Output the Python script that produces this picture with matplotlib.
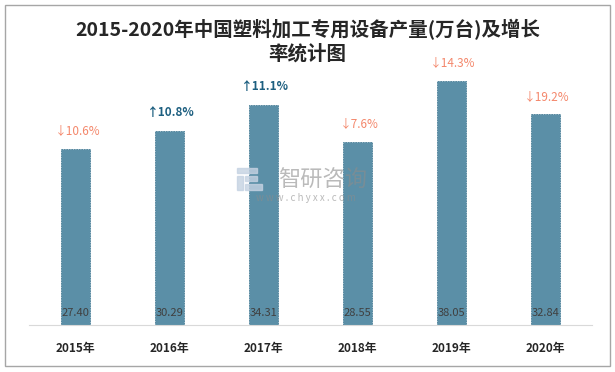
import matplotlib.pyplot as plt
from matplotlib.patches import Rectangle

plt.rcParams['font.family'] = ['Noto Sans CJK SC', 'DejaVu Sans']

# ========== DATA ==========
years = ["2015年", "2016年", "2017年", "2018年", "2019年", "2020年"]
output = [27.40, 30.29, 34.31, 28.55, 38.05, 32.84]
growth = ["10.6%", "10.8%", "11.1%", "7.6%", "14.3%", "19.2%"]
is_up = [False, True, True, False, False, False]

BAR_COLOR = "#5b8fa7"
DOWN_COLOR = "#f4876b"
UP_COLOR = "#1d5f80"

fig = plt.figure(figsize=(6.15, 3.72), dpi=100)
fig.patches.append(Rectangle((0.008, 0.015), 0.984, 0.972, transform=fig.transFigure,
                             fill=False, edgecolor="#a6a6a6", linewidth=1))

ax = fig.add_axes([0.047, 0.126, 0.916, 0.777])
x = list(range(len(years)))
ax.bar(x, output, width=0.31, color=BAR_COLOR, edgecolor="#4a7f98",
       linewidth=0.6, linestyle=(0, (2, 1)), zorder=2)

for i, v in enumerate(output):
    ax.annotate(f"{v:.2f}", (i, 0), xytext=(0, 9), textcoords="offset points",
                ha="center", va="center", fontsize=8, color="#404040", zorder=3)
    if is_up[i]:
        ax.annotate("↑" + growth[i], (i, v), xytext=(1, 13), textcoords="offset points",
                    ha="center", va="center", fontsize=8.5, color=UP_COLOR,
                    fontweight="bold")
    else:
        ax.annotate("↓" + growth[i], (i, v), xytext=(1, 13), textcoords="offset points",
                    ha="center", va="center", fontsize=8.5, color=DOWN_COLOR)

ax.set_xlim(-0.5, len(years) - 0.5)
ax.set_ylim(0, 45)
ax.set_xticks(x)
ax.set_xticklabels(years, fontsize=8.5, fontweight="bold", color="#262626")
ax.tick_params(axis="x", length=0, pad=12)
ax.set_yticks([])
for s in ["top", "right", "left"]:
    ax.spines[s].set_visible(False)
ax.spines["bottom"].set_color("#d9d9d9")

# watermark logo + text
for (lx, ly, lw, lh) in [(237, 168, 20, 5), (237, 176, 6, 14), (245, 176, 12, 5), (245, 184, 17, 6)]:
    fig.patches.append(Rectangle((lx / 615, 1 - (ly + lh) / 372), lw / 615, lh / 372,
                                 transform=fig.transFigure, color="#c5d2e2", alpha=0.8, zorder=5))
fig.text(0.525, 0.516, "智研咨询", fontsize=16, color="#8c8c8c", ha="center", va="center",
         alpha=0.6, zorder=5)
fig.text(0.497, 0.467, "w w w . c h y x x . c o m", fontsize=7, color="#8c8c8c",
         ha="center", va="center", alpha=0.6, zorder=5)

# title, two lines
fig.text(0.5, 1 - 30 / 372, "2015-2020年中国塑料加工专用设备产量(万台)及增长",
         ha="center", va="center", fontsize=14, fontweight="bold", color="#262626")
fig.text(0.5, 1 - 54 / 372, "率统计图",
         ha="center", va="center", fontsize=14, fontweight="bold", color="#262626")

fig.savefig("out.png", dpi=100)
